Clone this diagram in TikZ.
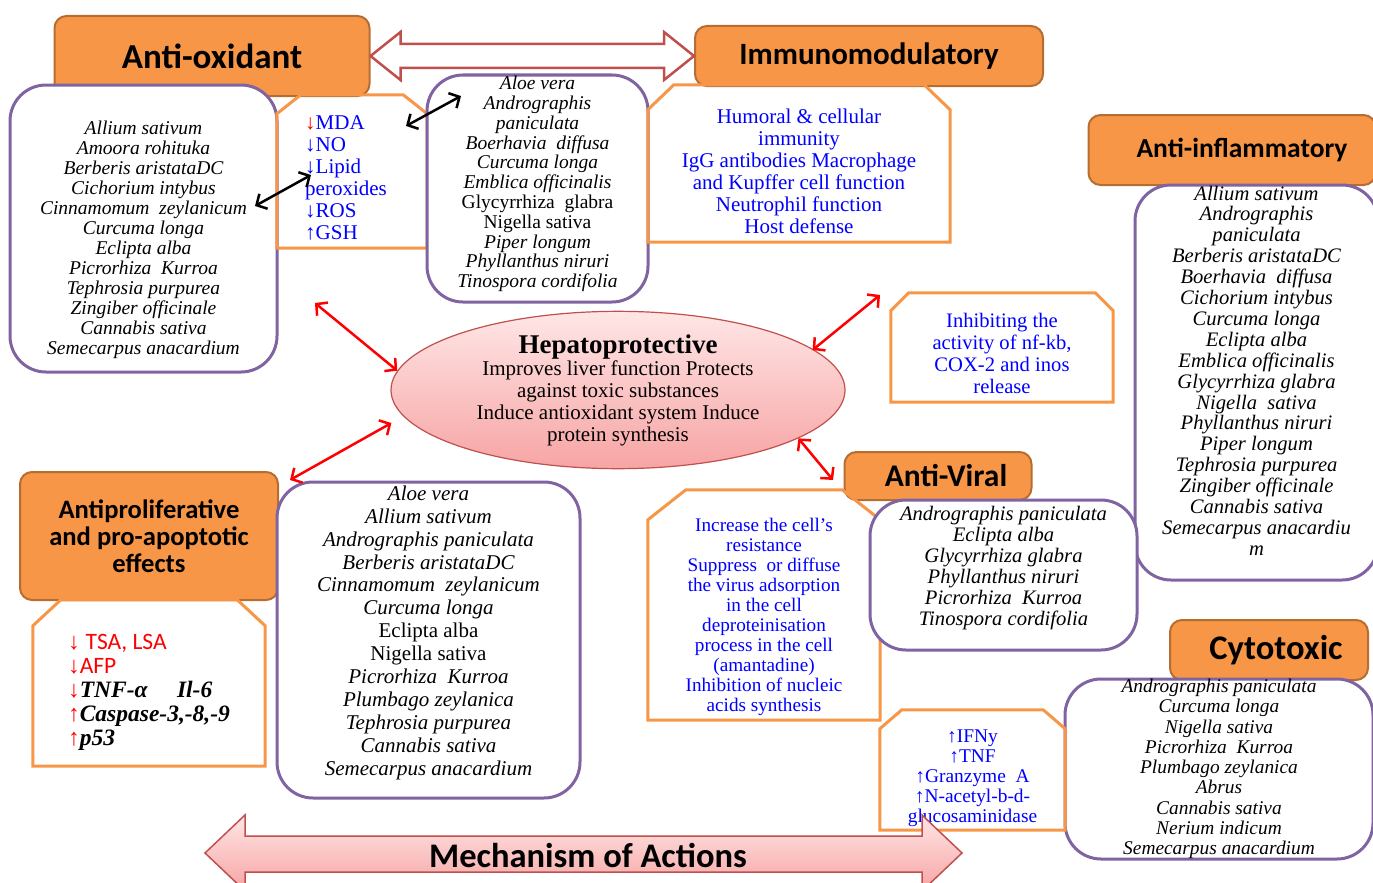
\documentclass[tikz,border=0pt]{standalone}
\usepackage{fontspec}
\setmainfont{Liberation Serif}
\setsansfont{Carlito}
\usetikzlibrary{shapes,arrows.meta,positioning,calc}

\definecolor{hdrfill}{HTML}{F79646}
\definecolor{hdrline}{HTML}{B66D31}
\definecolor{boxline}{HTML}{F79646}
\definecolor{listline}{HTML}{8064A2}
\definecolor{bannerline}{HTML}{C0504D}
\definecolor{txtblue}{HTML}{0000FF}
\definecolor{pinktop}{HTML}{FFE6E6}
\definecolor{pinkbot}{HTML}{F7A4A4}

\newcommand{\fsz}[2]{\fontsize{#1}{#2}\selectfont}
\newcommand{\dnarr}{\textcolor{red}{↓}}
\newcommand{\uparr}{\textcolor{red}{↑}}
\newcommand{\topgap}[1]{\rule{0pt}{#1}}
\newcommand{\botgap}[1]{\rule[-#1]{0pt}{#1}}
\newcommand{\chamferbox}[3]{%
  \draw[chamline] (#1.south west) -- ($(#1.north west)+(0,#3)$) -- ($(#1.north west)+(#2,0)$)
    -- ($(#1.north east)+(-#2,0)$) -- ($(#1.north east)+(0,#3)$) -- (#1.south east) -- cycle;}

\tikzset{
  heading/.style 2 args={rectangle, rounded corners=12pt, fill=hdrfill, draw=hdrline,
    line width=2pt, align=center, inner sep=0pt, font=\sffamily\bfseries\fsz{#1}{#2}},
  plants/.style 2 args={rectangle, rounded corners=36pt, fill=white, draw=listline,
    line width=3pt, align=center, inner sep=0pt, font=\itshape\fsz{#1}{#2}},
  effects/.style={rectangle, align=center, inner sep=0pt, text=txtblue},
  chamline/.style={draw=boxline, line width=3pt, line join=miter},
  twoway/.style={line width=2.5pt, {Straight Barb[length=8pt,width=17pt]}-{Straight Barb[length=8pt,width=17pt]}},
  hollowarrow/.style={draw=bannerline, line width=2.5pt, fill=white, line join=miter},
  banner/.style={draw=bannerline, line width=1.5pt, top color=pinktop, bottom color=pinkbot},
}

\begin{document}
\begin{tikzpicture}[x=1pt,y=-1pt]
        \useasboundingbox (0,0) rectangle (1373,883);
        \clip (0,0) rectangle (1373,883);

        \node[heading={35}{37}, minimum width=315pt, minimum height=80pt] (antiox) at (212,56) {Anti-oxidant};
        \node[heading={31}{33}, minimum width=348pt, minimum height=60pt] (immuno) at (869,56) {Immunomodulatory};
        \node[heading={27.5}{29}, minimum width=287pt, minimum height=70pt] (antiinfl) at (1232,150) {\hspace*{20pt}Anti-inflammatory};
        \node[heading={26.6}{27}, minimum width=258pt, minimum height=128pt] (antiprolif) at (149,536) {Antiproliferative\\and pro-apoptotic\\effects};
        \node[heading={31.5}{33}, minimum width=187pt, minimum height=48pt] (antiviral) at (938,476) {\hspace*{16pt}Anti-Viral};
        \node[heading={34.5}{36}, minimum width=198pt, minimum height=60pt] (cytotox) at (1269,650) {\hspace*{14pt}Cytotoxic};

        \node[plants={19.5}{20}, minimum width=267pt, minimum height=287pt] (oxlist) at (143.5,228.5) {\topgap{36pt}Allium sativum\\Amoora rohituka\\Berberis aristataDC\\Cichorium intybus\\Cinnamomum~ zeylanicum\\Curcuma longa\\Eclipta alba\\Picrorhiza~ Kurroa\\Tephrosia purpurea\\Zingiber officinale\\Cannabis sativa\\Semecarpus anacardium};
        \node[effects, font=\fsz{21}{22}, align=left, minimum width=150pt, minimum height=153pt] (mda) at (352,171.5) {\topgap{27pt}\dnarr MDA\\↓NO\\↓Lipid\\peroxides\rule{12pt}{0pt}\\↓ROS\\↑GSH};
        \chamferbox{mda}{24}{19}
        \node[plants={19.5}{19.8}, minimum width=221pt, minimum height=227pt] (aloelist) at (537.5,188.5) {Aloe vera\\Andrographis\\paniculata\\Boerhavia~ diffusa\\Curcuma longa\\Emblica officinalis\\{\upshape Glycyrrhiza~ glabra}\\{\upshape Nigella sativa}\\Piper longum\\Phyllanthus niruri\\Tinospora cordifolia\botgap{13pt}};
        \node[effects, font=\fsz{21}{22}, minimum width=302pt, minimum height=157pt] (immtext) at (799,163.5) {\topgap{31pt}Humoral \& cellular\\immunity\\IgG antibodies Macrophage\\and Kupffer cell function\\Neutrophil function\\Host defense};
        \chamferbox{immtext}{26}{25}
        \node[plants={20.6}{20.9}, minimum width=243pt, minimum height=395pt] (infllist) at (1256.5,382.5) {Allium sativum\\Andrographis\\paniculata\\Berberis aristataDC\\Boerhavia~ diffusa\\Cichorium intybus\\Curcuma longa\\Eclipta alba\\Emblica officinalis\\Glycyrrhiza glabra\\Nigella~ sativa\\Phyllanthus niruri\\Piper longum\\Tephrosia purpurea\\Zingiber officinale\\Cannabis sativa\\Semecarpus anacardiu\\m\botgap{24pt}};
        \node[effects, font=\fsz{20.6}{22}, minimum width=222pt, minimum height=109pt] (inhib) at (1002,347.5) {\topgap{27pt}Inhibiting the\\activity of nf-kb,\\COX-2 and inos\\release};
        \chamferbox{inhib}{18}{18}
        \node[effects, text=black, align=left, font=\fsz{23.5}{24}, minimum width=232pt, minimum height=166pt] (protext) at (149,683) {\topgap{34pt}{\color{red}↓ \sffamily TSA, LSA}\\{\color{red}↓\sffamily AFP}\\\dnarr\textbf{\textit{TNF-α\quad\ Il-6}}\\\uparr\textbf{\textit{Caspase-3,-8,-9}}\\\uparr\textbf{\textit{p53}}};
        \chamferbox{protext}{28}{26}
        \node[plants={21}{22.9}, minimum width=303pt, minimum height=316pt] (prolist) at (428.5,640) {Aloe vera\\Allium sativum\\Andrographis paniculata\\Berberis aristataDC\\Cinnamomum~ zeylanicum\\Curcuma longa\\{\upshape Eclipta alba}\\{\upshape Nigella sativa}\\Picrorhiza~ Kurroa\\Plumbago zeylanica\\Tephrosia purpurea\\Cannabis sativa\\Semecarpus anacardium\botgap{19pt}};
        \node[effects, font=\fsz{19.2}{20}, minimum width=232pt, minimum height=230pt] (virtext) at (764,605) {\topgap{38pt}Increase the cell's\\resistance\\Suppress~ or diffuse\\the virus adsorption\\in the cell\\deproteinisation\\process in the cell\\(amantadine)\\Inhibition of nucleic\\acids synthesis};
        \chamferbox{virtext}{38}{30}
        \node[plants={20.6}{21}, minimum width=267pt, minimum height=150pt] (virlist) at (1003.5,575) {Andrographis paniculata\\Eclipta alba\\Glycyrrhiza glabra\\Phyllanthus niruri\\Picrorhiza~ Kurroa\\Tinospora cordifolia\botgap{19pt}};
        \node[plants={19.4}{20.3}, minimum width=308pt, minimum height=178pt] (cytolist) at (1219,769) {Andrographis paniculata\\Curcuma longa\\Nigella sativa\\Picrorhiza~ Kurroa\\Plumbago zeylanica\\Abrus\\Cannabis sativa\\Nerium indicum\\Semecarpus anacardium};
        \node[effects, font=\fsz{19.4}{20}, minimum width=185pt, minimum height=120pt] (ifn) at (972.5,770) {\topgap{30pt}↑IFNy\\↑TNF\\↑Granzyme~ A\\↑N-acetyl-b-d-\\glucosaminidase};
        \chamferbox{ifn}{22}{19}

        \node[ellipse, draw=bannerline, line width=1.2pt, top color=pinktop, bottom color=pinkbot, minimum width=454pt, minimum height=114pt, inner sep=0pt, align=center, font=\fsz{21}{22}] (hep) at (618,390) {{\bfseries\fsz{27}{30}Hepatoprotective}\\Improves liver function Protects\\against toxic substances\\Induce antioxidant system Induce\\protein synthesis};

        \coordinate (oxgap) at (315,303);
        \coordinate (inflgap) at (880,295);
        \coordinate (progap) at (290,480);
        \coordinate (virgap) at (833,480);
        \coordinate (oxin) at (255,206);
        \coordinate (mdain) at (311,175);
        \coordinate (mdaout) at (406,126);
        \coordinate (aloein) at (461,96);

        \draw[twoway, red] (oxgap) -- (hep.175);
        \draw[twoway, red] ($(hep.east)+(-33,-40)$) -- (inflgap);
        \draw[twoway, red] ($(hep.west)+(1,33)$) -- (progap);
        \draw[twoway, red] (hep.345) -- (virgap);
        \draw[twoway, black] (oxin) -- (mdain);
        \draw[twoway, black] (mdaout) -- (aloein);

        \draw[hollowarrow] (antiox.east) -- ++(30,-24) -- ++(0,12) -- ($(immuno.west)+(-30,-12)$) -- ++(0,-12) -- (immuno.west) -- ++(-30,24) -- ++(0,-12) -- ($(antiox.east)+(30,12)$) -- ++(0,12) -- cycle;

        \draw[banner] (205,853) -- (245,815) -- (245,836) -- (922,836) -- (922,815) -- (962,853) -- (922,891) -- (922,872) -- (245,872) -- (245,891) -- cycle;
        \node[font=\sffamily\bfseries\fsz{34.5}{36}] (moa) at (588,855) {Mechanism of Actions};
\end{tikzpicture}
\end{document}
